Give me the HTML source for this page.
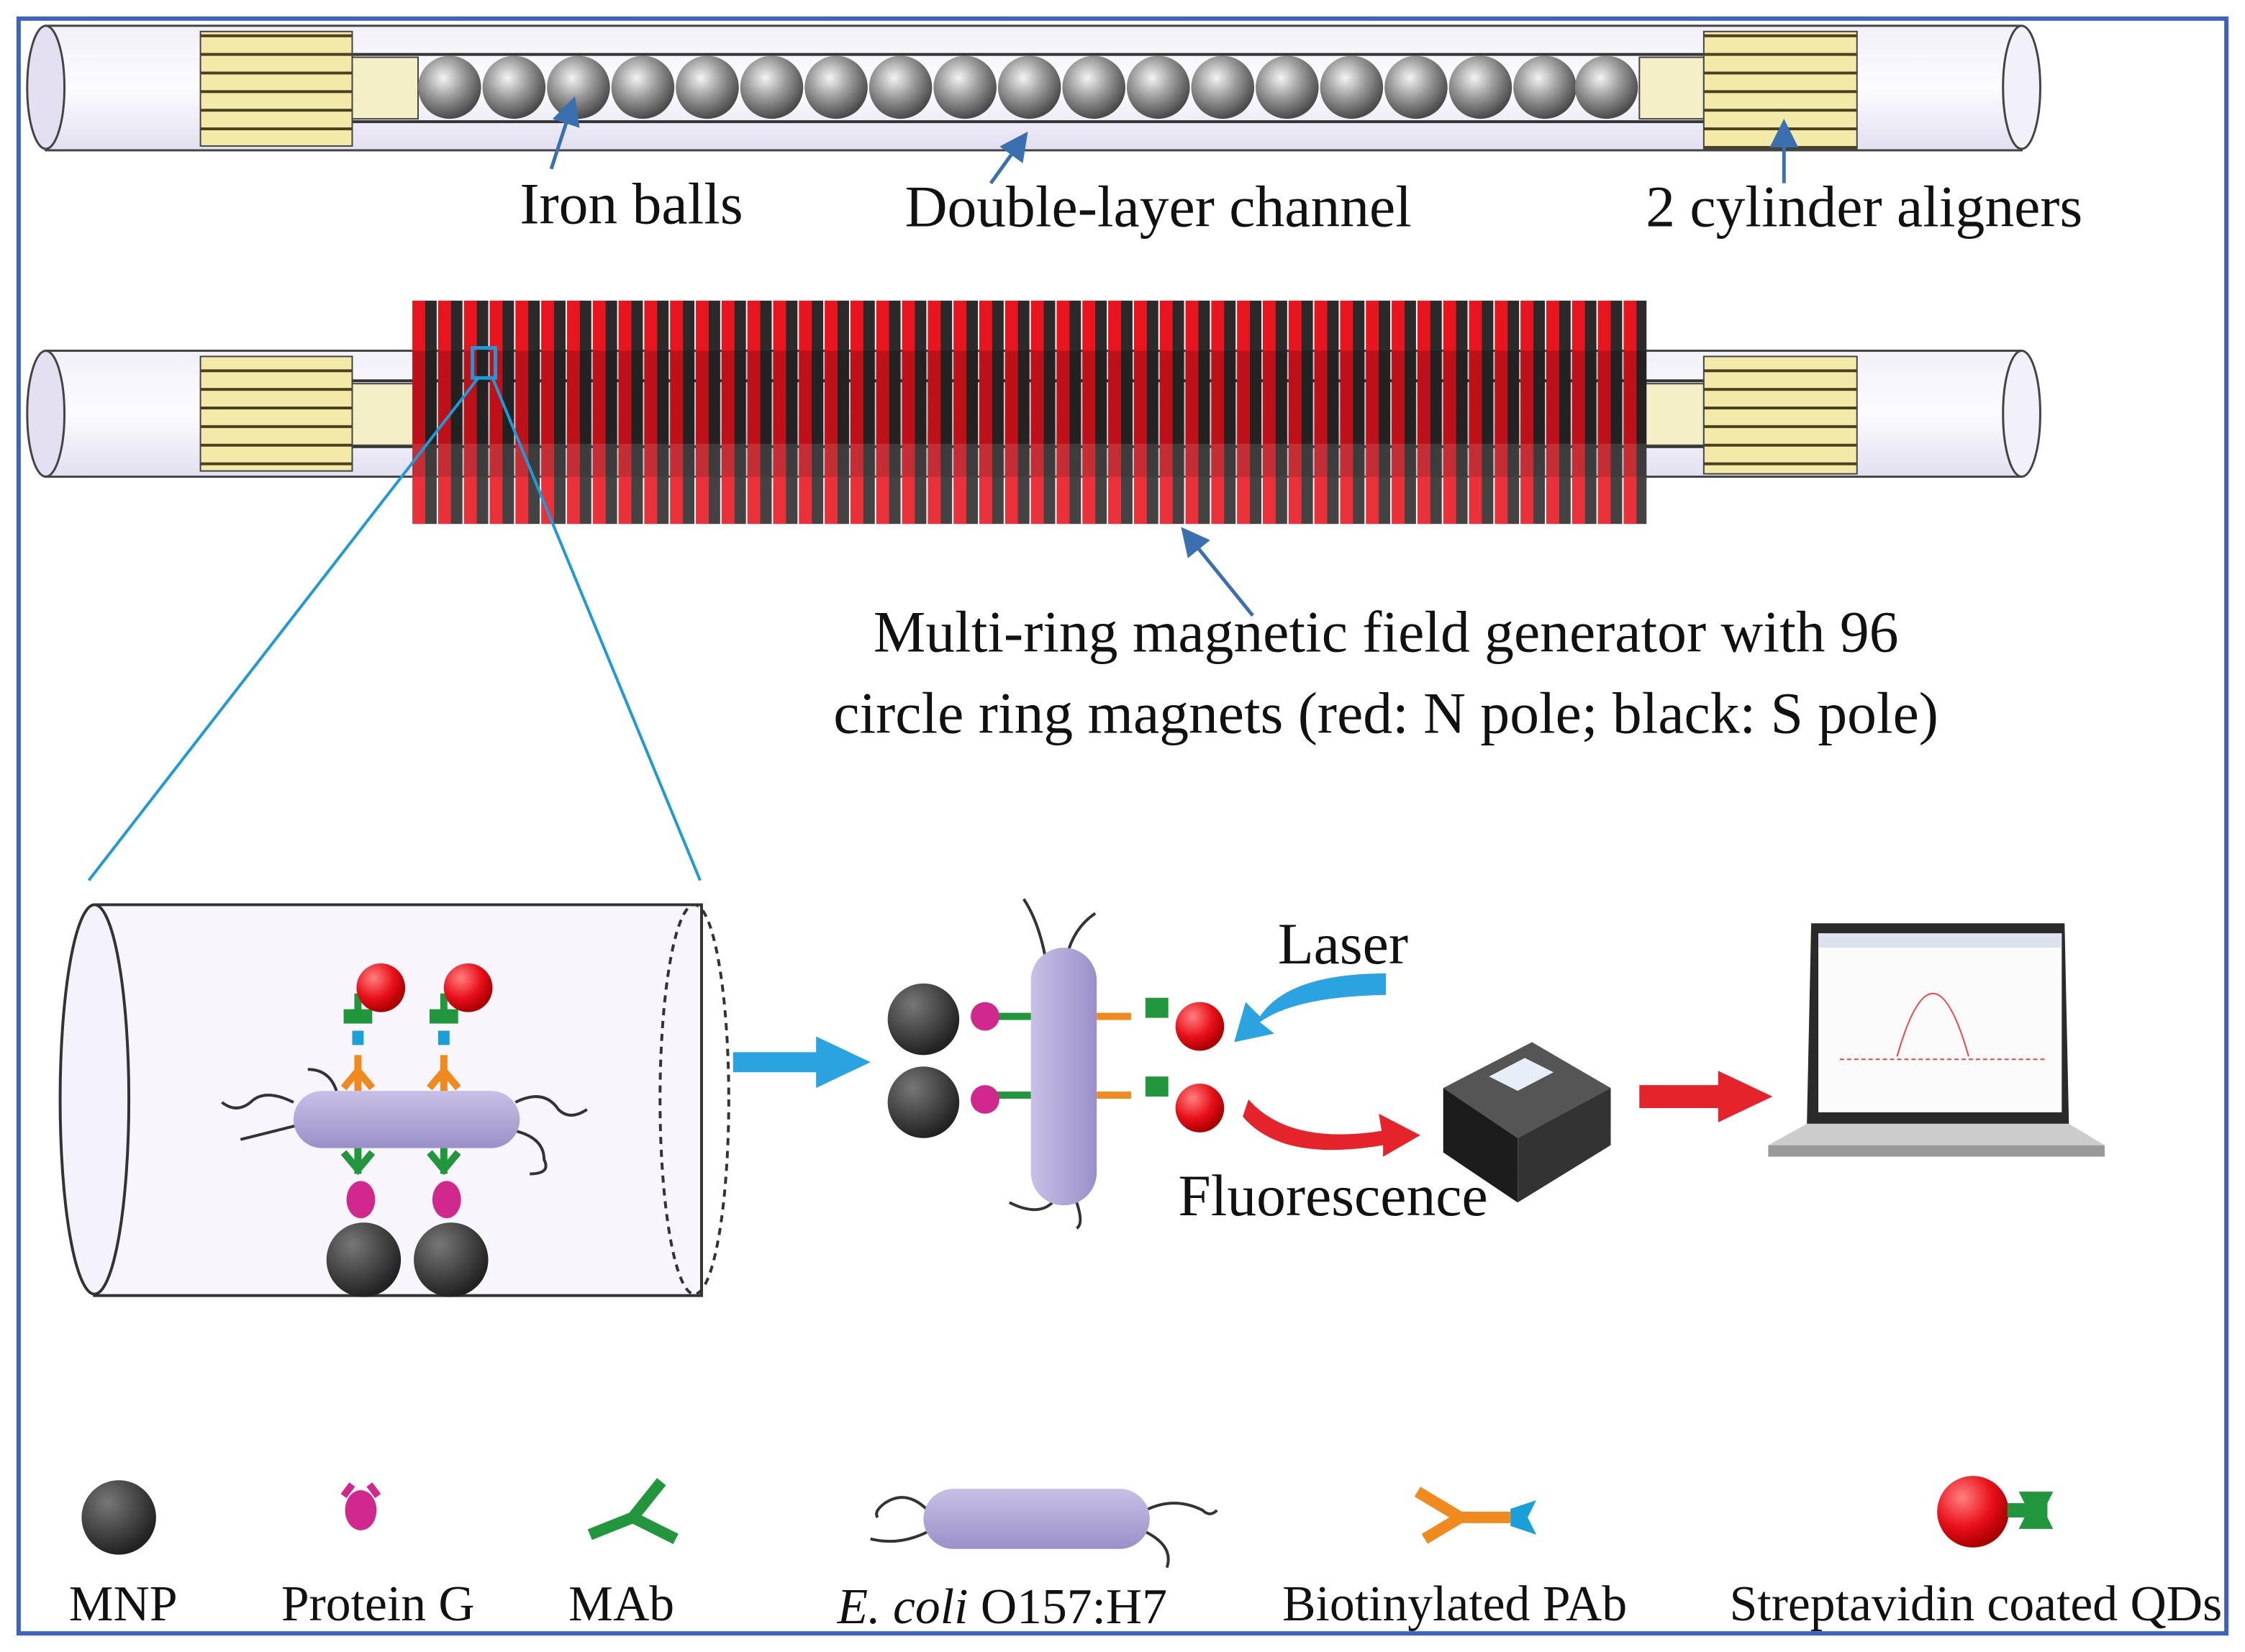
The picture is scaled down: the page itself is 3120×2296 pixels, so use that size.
<!DOCTYPE html>
<html><head><meta charset="utf-8"><style>
html,body{margin:0;padding:0;background:#fff}
svg{display:block}
text{font-family:"Liberation Serif",serif;fill:#111}
</style></head><body>
<svg width="3120" height="2296" viewBox="0 0 1568 1154" preserveAspectRatio="none" xmlns="http://www.w3.org/2000/svg">
<defs>
<linearGradient id="tube" x1="0" y1="0" x2="0" y2="1"><stop offset="0" stop-color="#f2f0f8"/><stop offset="0.5" stop-color="#fcfcff"/><stop offset="1" stop-color="#e2dff0"/></linearGradient>
<radialGradient id="ball" cx="0.4" cy="0.35" r="0.65"><stop offset="0" stop-color="#f4f4f4"/><stop offset="0.5" stop-color="#9a9a9a"/><stop offset="1" stop-color="#4a4a4a"/></radialGradient>
<radialGradient id="mnp" cx="0.35" cy="0.3" r="0.7"><stop offset="0" stop-color="#777"/><stop offset="1" stop-color="#222"/></radialGradient>
<radialGradient id="qd" cx="0.35" cy="0.3" r="0.7"><stop offset="0" stop-color="#ff8080"/><stop offset="0.6" stop-color="#e8101a"/><stop offset="1" stop-color="#a00"/></radialGradient>
<linearGradient id="bac" x1="0" y1="0" x2="0" y2="1"><stop offset="0" stop-color="#c8c0e6"/><stop offset="1" stop-color="#9a90c8"/></linearGradient>
<linearGradient id="bacv" x1="0" y1="0" x2="1" y2="0"><stop offset="0" stop-color="#c8c0e6"/><stop offset="1" stop-color="#9a90c8"/></linearGradient>
<pattern id="gold" width="10" height="13" patternUnits="userSpaceOnUse"><rect width="10" height="13" fill="#f3e9a8"/><rect y="11" width="10" height="2" fill="#4a4020"/></pattern>
<pattern id="mag" x="288" width="18" height="10" patternUnits="userSpaceOnUse"><rect width="9" height="10" fill="#e8141e"/><rect x="9" width="8" height="10" fill="#2a2a2a"/></pattern>
<marker id="ab" markerWidth="8" markerHeight="8" refX="6" refY="4" orient="auto"><path d="M0,0 L8,4 L0,8 z" fill="#3a6fb0"/></marker>
</defs>
<rect x="0" y="0" width="1568" height="1154" fill="#fff"/>
<rect x="13" y="13" width="1542" height="1128" fill="none" stroke="#3b63c4" stroke-width="3"/>

<g>
<rect x="32" y="18" width="1380" height="87" fill="url(#tube)" stroke="#444" stroke-width="1.5"/>
<ellipse cx="32" cy="61" rx="13" ry="43" fill="#e4e0f2" stroke="#444" stroke-width="1.5"/>
<ellipse cx="1412" cy="61" rx="13" ry="43" fill="#f2f0f8" stroke="#444" stroke-width="1.5"/>
<line x1="246" y1="38" x2="1190" y2="38" stroke="#333" stroke-width="2"/>
<line x1="246" y1="85" x2="1190" y2="85" stroke="#333" stroke-width="2"/>
<rect x="246" y="40" width="46" height="43" fill="#f5efc8" stroke="#444"/>
<rect x="1145" y="40" width="45" height="43" fill="#f5efc8" stroke="#444"/>
<rect x="140" y="22" width="106" height="80" fill="url(#gold)" stroke="#444"/>
<rect x="1190" y="22" width="107" height="82" fill="url(#gold)" stroke="#444"/>
<g fill="url(#ball)">
<circle cx="314" cy="61" r="22"/><circle cx="359" cy="61" r="22"/><circle cx="404" cy="61" r="22"/><circle cx="449" cy="61" r="22"/><circle cx="494" cy="61" r="22"/><circle cx="539" cy="61" r="22"/><circle cx="584" cy="61" r="22"/><circle cx="629" cy="61" r="22"/><circle cx="674" cy="61" r="22"/><circle cx="719" cy="61" r="22"/><circle cx="764" cy="61" r="22"/><circle cx="809" cy="61" r="22"/><circle cx="854" cy="61" r="22"/><circle cx="899" cy="61" r="22"/><circle cx="944" cy="61" r="22"/><circle cx="989" cy="61" r="22"/><circle cx="1034" cy="61" r="22"/><circle cx="1079" cy="61" r="22"/><circle cx="1122" cy="61" r="22"/>
</g>
</g>
<line x1="385" y1="118" x2="400" y2="72" stroke="#3a6fb0" stroke-width="2.5" marker-end="url(#ab)"/>
<line x1="692" y1="128" x2="715" y2="96" stroke="#3a6fb0" stroke-width="2.5" marker-end="url(#ab)"/>
<line x1="1246" y1="128" x2="1246" y2="88" stroke="#3a6fb0" stroke-width="2.5" marker-end="url(#ab)"/>
<text x="441" y="156" font-size="41" text-anchor="middle">Iron balls</text>
<text x="809" y="158" font-size="41" text-anchor="middle">Double-layer channel</text>
<text x="1302" y="158" font-size="41" text-anchor="middle">2 cylinder aligners</text>

<g>
<rect x="32" y="245" width="1380" height="88" fill="url(#tube)" stroke="#444" stroke-width="1.5"/>
<ellipse cx="32" cy="289" rx="13" ry="44" fill="#e4e0f2" stroke="#444" stroke-width="1.5"/>
<ellipse cx="1412" cy="289" rx="13" ry="44" fill="#f2f0f8" stroke="#444" stroke-width="1.5"/>
<line x1="246" y1="266" x2="1190" y2="266" stroke="#333" stroke-width="2"/>
<line x1="246" y1="312" x2="1190" y2="312" stroke="#333" stroke-width="2"/>
<rect x="246" y="268" width="46" height="43" fill="#f5efc8" stroke="#444"/>
<rect x="1145" y="268" width="45" height="43" fill="#f5efc8" stroke="#444"/>
<rect x="140" y="249" width="106" height="80" fill="url(#gold)" stroke="#444"/>
<rect x="1190" y="249" width="107" height="82" fill="url(#gold)" stroke="#444"/>
<rect x="288" y="210" width="862" height="156" fill="url(#mag)"/>
<rect x="288" y="245" width="862" height="88" fill="#000" opacity="0.18"/>
<rect x="288" y="310" width="862" height="56" fill="#fff" opacity="0.12"/>
</g>
<rect x="330" y="243" width="16" height="21" fill="none" stroke="#1e9ad8" stroke-width="2.5"/>
<line x1="334" y1="264" x2="62" y2="615" stroke="#1e9ad8" stroke-width="2"/>
<line x1="344" y1="264" x2="489" y2="615" stroke="#1e9ad8" stroke-width="2"/>
<line x1="875" y1="430" x2="828" y2="372" stroke="#3a6fb0" stroke-width="2.5" marker-end="url(#ab)"/>
<text x="968" y="455" font-size="41" text-anchor="middle">Multi-ring magnetic field generator with 96</text>
<text x="968" y="512" font-size="41" text-anchor="middle">circle ring magnets (red: N pole; black: S pole)</text>

<path d="M66,632 L490,632 L490,905 L66,905 Z" fill="#f8f6fc" stroke="#333" stroke-width="2"/>
<ellipse cx="66" cy="768" rx="24" ry="136" fill="#f4f2fa" stroke="#333" stroke-width="2"/>
<ellipse cx="485" cy="768" rx="24" ry="136" fill="none" stroke="#333" stroke-width="2" stroke-dasharray="5,4"/>
<g stroke="#333" stroke-width="2" fill="none">
<path d="M205,770 q-20,-10 -30,0 q-10,8 -20,0"/><path d="M208,786 q-20,5 -40,10"/><path d="M360,770 q20,-10 30,5 q8,8 20,0"/><path d="M360,790 q20,5 20,20 q5,10 -10,10"/><path d="M235,762 q-5,-15 -20,-15"/>
</g>
<rect x="205" y="762" width="158" height="40" rx="20" fill="url(#bac)"/>
<g stroke="#f08a1e" stroke-width="5" fill="none"><path d="M250,762 v-25 M240,760 l10,-12 l10,12 M310,762 v-25 M300,760 l10,-12 l10,12"/></g>
<g stroke="#22963c" stroke-width="5" fill="none"><path d="M250,708 v-14 M310,708 v-14 M250,802 v18 M240,805 l10,12 l10,-12 M310,802 v18 M300,805 l10,12 l10,-12"/></g>
<g fill="#22963c"><rect x="240" y="705" width="20" height="10"/><rect x="300" y="705" width="20" height="10"/></g>
<rect x="246" y="720" width="8" height="10" fill="#1aa0d8"/><rect x="306" y="720" width="8" height="10" fill="#1aa0d8"/>
<circle cx="266" cy="690" r="17" fill="url(#qd)"/><circle cx="327" cy="690" r="17" fill="url(#qd)"/>
<ellipse cx="252" cy="838" rx="10" ry="13" fill="#d0288c"/><ellipse cx="312" cy="838" rx="10" ry="13" fill="#d0288c"/>
<circle cx="254" cy="880" r="26" fill="url(#mnp)"/><circle cx="315" cy="880" r="26" fill="url(#mnp)"/>

<path d="M512,735 L570,735 L570,724 L608,742 L570,760 L570,749 L512,749 Z" fill="#2ba3e0"/>

<g stroke="#333" stroke-width="2" fill="none">
<path d="M730,668 q-5,-25 -15,-40"/><path d="M745,668 q5,-20 20,-30"/><path d="M735,840 q-10,10 -30,0"/><path d="M752,840 q5,15 0,18"/>
</g>
<rect x="720" y="662" width="46" height="180" rx="23" fill="url(#bacv)"/>
<g stroke="#f08a1e" stroke-width="5" fill="none"><path d="M766,710 h24 M766,765 h24"/></g>
<g stroke="#22963c" stroke-width="5" fill="none"><path d="M720,710 h-25 M720,765 h-25"/></g>
<g fill="#22963c"><rect x="800" y="697" width="16" height="14"/><rect x="800" y="752" width="16" height="14"/></g>
<circle cx="838" cy="717" r="17" fill="url(#qd)"/><circle cx="838" cy="774" r="17" fill="url(#qd)"/>
<circle cx="688" cy="710" r="10" fill="#d0288c"/><circle cx="688" cy="768" r="10" fill="#d0288c"/>
<circle cx="645" cy="712" r="25" fill="url(#mnp)"/><circle cx="645" cy="770" r="25" fill="url(#mnp)"/>
<path d="M968,680 Q900,680 880,710 L870,700 L862,728 L890,722 L880,714 Q905,696 968,695 Z" fill="#2ba3e0"/>
<text x="938" y="673" font-size="41" text-anchor="middle">Laser</text>
<path d="M872,768 Q900,800 965,790 L963,778 L992,793 L966,808 L966,800 Q895,812 868,780 Z" fill="#e4232a"/>
<text x="931" y="849" font-size="41" text-anchor="middle">Fluorescence</text>

<path d="M1008,760 L1070,728 L1125,760 L1060,795 Z" fill="#555"/>
<path d="M1008,760 L1060,795 L1060,840 L1008,805 Z" fill="#1c1c1c"/>
<path d="M1060,795 L1125,760 L1125,800 L1060,840 Z" fill="#333"/>
<path d="M1040,752 l25,-13 l20,10 l-25,13 z" fill="#e8eef8"/>
<path d="M1145,758 L1200,758 L1200,748 L1238,766 L1200,784 L1200,774 L1145,774 Z" fill="#e4232a"/>

<path d="M1265,645 L1442,645 L1445,785 L1262,785 Z" fill="#2a2a2a"/>
<rect x="1270" y="652" width="170" height="125" fill="#fbfbfb"/>
<rect x="1270" y="652" width="170" height="10" fill="#dde3ee"/>
<line x1="1285" y1="740" x2="1430" y2="740" stroke="#e44" stroke-width="1" stroke-dasharray="3,2"/>
<path d="M1325,738 Q1350,650 1375,738" stroke="#e44" fill="none"/>
<path d="M1262,785 L1445,785 L1470,800 L1235,800 Z" fill="#ccc"/>
<rect x="1235" y="800" width="235" height="8" fill="#999"/>

<circle cx="83" cy="1060" r="26" fill="url(#mnp)"/>
<text x="86" y="1132" font-size="35" text-anchor="middle">MNP</text>
<ellipse cx="252" cy="1055" rx="11" ry="14" fill="#d0288c"/><path d="M240,1045 l6,-8 M264,1045 l-6,-8" stroke="#d0288c" stroke-width="5"/>
<text x="264" y="1132" font-size="35" text-anchor="middle">Protein G</text>
<g stroke="#22963c" stroke-width="8" fill="none"><path d="M412,1072 l30,-12 l20,-25 M442,1060 l30,15"/></g>
<text x="434" y="1132" font-size="35" text-anchor="middle">MAb</text>
<g stroke="#333" stroke-width="2" fill="none"><path d="M648,1055 q-15,-15 -30,-5 q-8,6 -5,10"/><path d="M648,1070 q-20,10 -40,5"/><path d="M800,1055 q20,-10 40,0 q5,5 10,0"/><path d="M800,1070 q20,10 15,25"/></g>
<rect x="645" y="1040" width="158" height="42" rx="21" fill="url(#bac)"/>
<text x="700" y="1134" font-size="35" text-anchor="middle"><tspan font-style="italic">E. coli</tspan> O157:H7</text>
<g stroke="#f08a1e" stroke-width="8" fill="none"><path d="M990,1042 l30,18 l-25,15 M1020,1060 l35,0"/></g>
<path d="M1055,1054 l18,-6 l-6,12 l6,12 l-18,-6 z" fill="#1aa0d8"/>
<text x="1016" y="1132" font-size="35" text-anchor="middle">Biotinylated PAb</text>
<circle cx="1378" cy="1056" r="25" fill="url(#qd)"/>
<path d="M1402,1050 h12 l-4,-8 h24 l-4,8 v10 l4,8 h-24 l4,-8 h-12 z" fill="#22963c"/>
<text x="1380" y="1132" font-size="35" text-anchor="middle">Streptavidin coated QDs</text>
</svg>
</body></html>
